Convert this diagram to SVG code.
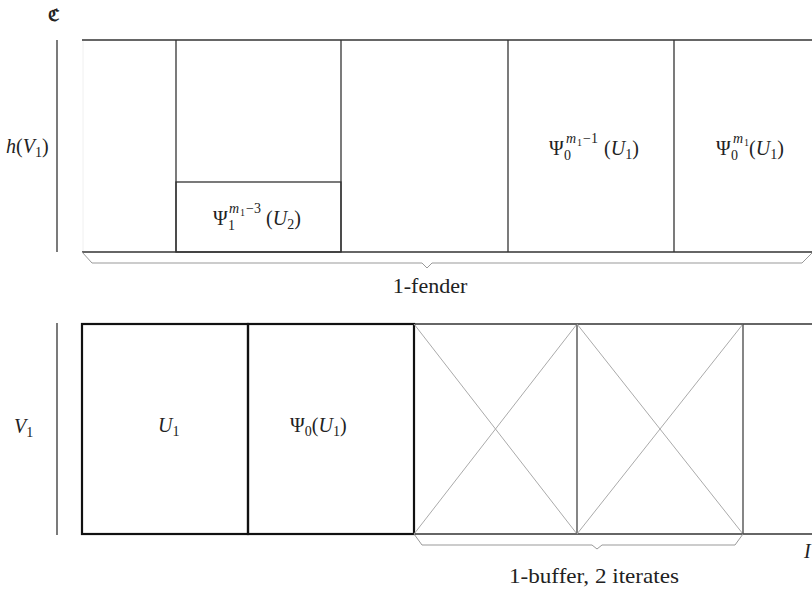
<svg xmlns="http://www.w3.org/2000/svg" width="812" height="589" viewBox="0 0 812 589">
<style>
.ln{stroke:#333;stroke-width:1.3;fill:none}
.bold{stroke:#111;stroke-width:2.2;fill:none}
.frame{stroke:#444;stroke-width:1.3;fill:none}
.diag{stroke:#aaa;stroke-width:1;fill:none}
.brace{stroke:#999;stroke-width:1;fill:none}
.faint{stroke:#f0f0f0;stroke-width:1}
text{font-family:"Liberation Serif","DejaVu Serif",serif;fill:#222}
.m{font-size:20px}
.it{font-style:italic}
.sup{font-size:14px}
.ss{font-size:10px}
.lbl{font-size:22px;text-anchor:middle}
</style>
<rect width="812" height="589" fill="#fff"/>
<text x="48" y="21" style="font-family:'DejaVu Serif',serif;font-size:17px;font-weight:bold">ℭ</text>

<g id="axes">
<line class="ln" x1="57" y1="40" x2="57" y2="252"/>
<line class="ln" x1="57" y1="323" x2="57" y2="535"/>
</g>

<g id="top-strip">
<line class="faint" x1="83" y1="41" x2="83" y2="251"/>
<line class="ln" x1="82" y1="40" x2="812" y2="40"/>
<line class="ln" x1="82" y1="252" x2="812" y2="252"/>
</g>
<g id="cell-top-1"><line class="ln" x1="176" y1="40" x2="176" y2="252"/></g>
<g id="cell-psi1"><line class="ln" x1="341" y1="40" x2="341" y2="252"/><rect class="ln" x="176" y="182" width="165" height="70"/>
<text class="m" x="213" y="225">Ψ</text><text class="sup" x="228" y="230">1</text>
<text class="sup it" x="229" y="213">m</text><text class="ss" x="240" y="216">1</text><text class="sup" x="246" y="213">−3</text>
<text class="m" x="266" y="225">(<tspan class="it">U</tspan><tspan class="sup" dy="4">2</tspan><tspan dy="-4">)</tspan></text>
</g>
<g id="cell-top-3"><line class="ln" x1="508" y1="40" x2="508" y2="252"/></g>
<g id="cell-psi0-m1-1"><line class="ln" x1="674" y1="40" x2="674" y2="252"/>
<text class="m" x="549" y="155">Ψ</text><text class="sup" x="564" y="160">0</text>
<text class="sup it" x="566" y="143">m</text><text class="ss" x="577" y="146">1</text><text class="sup" x="583" y="143">−1</text>
<text class="m" x="604" y="155">(<tspan class="it">U</tspan><tspan class="sup" dy="4">1</tspan><tspan dy="-4">)</tspan></text>
</g>
<g id="cell-psi0-m1">
<text class="m" x="716" y="155">Ψ</text><text class="sup" x="731" y="160">0</text>
<text class="sup it" x="733" y="143">m</text><text class="ss" x="744" y="146">1</text>
<text class="m" x="749" y="155">(<tspan class="it">U</tspan><tspan class="sup" dy="4">1</tspan><tspan dy="-4">)</tspan></text>
</g>
<g id="label-hV1"><text class="m" x="6" y="153"><tspan class="it">h</tspan>(<tspan class="it">V</tspan><tspan class="sup" dy="4">1</tspan><tspan dy="-4">)</tspan></text></g>

<g id="bottom-strip">
<line class="ln" x1="414" y1="324" x2="812" y2="324"/>
<line class="ln" x1="414" y1="534" x2="812" y2="534"/>
</g>
<g id="label-V1"><text class="m" x="14" y="433"><tspan class="it">V</tspan><tspan class="sup" dy="4">1</tspan></text></g>
<g id="box-U1"><rect class="bold" x="82" y="324" width="166" height="210"/>
<text class="m" x="158" y="432"><tspan class="it">U</tspan><tspan class="sup" dy="4">1</tspan></text></g>
<g id="box-psi0U1"><rect class="bold" x="248" y="324" width="166" height="210"/>
<text class="m" x="290" y="432">Ψ<tspan class="sup" dy="4">0</tspan><tspan dy="-4">(</tspan><tspan class="it">U</tspan><tspan class="sup" dy="4">1</tspan><tspan dy="-4">)</tspan></text></g>
<g id="box-x1">
<line class="diag" x1="414" y1="324" x2="577" y2="534"/><line class="diag" x1="414" y1="534" x2="577" y2="324"/>
<line class="frame" x1="577" y1="324" x2="577" y2="534"/></g>
<g id="box-x2">
<line class="diag" x1="577" y1="324" x2="743" y2="534"/><line class="diag" x1="577" y1="534" x2="743" y2="324"/>
<line class="frame" x1="743" y1="324" x2="743" y2="534"/></g>
<g id="label-I"><text class="m it" x="804" y="558">I</text></g>

<g id="connectors">
<polyline class="brace" points="82,252 92,263 422,263 427,268 432,263 802,263 812,253"/>
<polyline class="brace" points="414,534 422,545 592,545 597,549 602,545 735,545 743,534"/>
</g>
<g id="label-fender"><text class="lbl" x="430" y="293">1-fender</text></g>
<g id="label-buffer"><text class="lbl" x="594" y="583" textLength="170" lengthAdjust="spacingAndGlyphs">1-buffer, 2 iterates</text></g>
</svg>
